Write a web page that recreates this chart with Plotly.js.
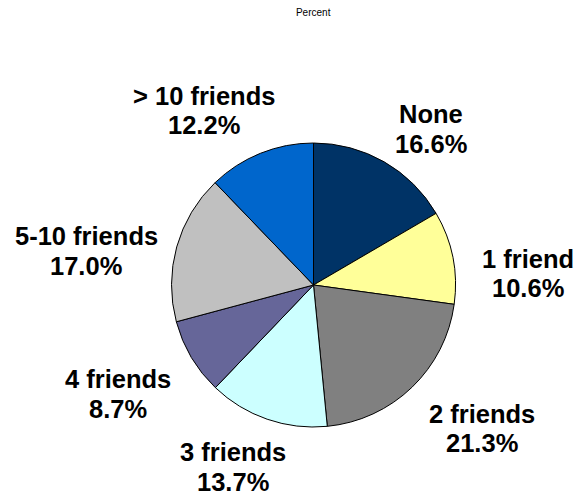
<!DOCTYPE html>
<html><head><meta charset="utf-8">
<script src="https://cdn.plot.ly/plotly-3.0.1.min.js"></script>
<style>html,body{margin:0;padding:0;background:#fff;}#chart{width:580px;height:495px;}</style>
</head><body><div id="chart"></div>
<script>
const categories = ["None", "1 friend", "2 friends", "3 friends", "4 friends", "5-10 friends", "> 10 friends"];
const values = [16.6, 10.6, 21.3, 13.7, 8.7, 17.0, 12.2];
const colors = ["#003366", "#FFFF99", "#808080", "#CCFFFF", "#666699", "#C0C0C0", "#0066CC"];

const W = 580, H = 495;
const cx = 313.5, cy = 285, R = 142;
// label anchor centres (pixels, first line) matching the reference layout
const labelPos = [[430.5, 114], [528, 258.7], [482, 413.7], [232.5, 452], [117.5, 379], [86, 236], [204, 96]];
const lineGap = 29.5;
const labelFont = {family: 'Liberation Sans, Arial, sans-serif', size: 25.5, color: '#000'};

const annotations = [];
categories.forEach((c, i) => {
  const base = {xref: 'paper', yref: 'paper', xanchor: 'center', yanchor: 'middle',
    showarrow: false, align: 'center', font: labelFont, x: labelPos[i][0] / W};
  annotations.push(Object.assign({}, base, {text: '<b>' + c + '</b>', y: 1 - labelPos[i][1] / H}));
  annotations.push(Object.assign({}, base, {text: '<b>' + values[i].toFixed(1) + '%</b>', y: 1 - (labelPos[i][1] + lineGap) / H}));
});

const data = [{
  type: 'pie', labels: categories, values: values, sort: false,
  direction: 'clockwise', rotation: 0,
  marker: {colors: colors, line: {color: '#000', width: 1}},
  textinfo: 'none', hoverinfo: 'label+percent', showlegend: false,
  domain: {x: [(cx - R) / W, (cx + R) / W], y: [(H - cy - R) / H, (H - cy + R) / H]}
}];

const layout = {
  width: W, height: H, margin: {l: 0, r: 0, t: 0, b: 0},
  paper_bgcolor: '#fff', showlegend: false,
  title: {text: 'Percent', x: 0.54, xanchor: 'center', y: 1 - 12 / H, yanchor: 'middle',
    font: {family: 'Liberation Sans, Arial, sans-serif', size: 10, color: '#000'}},
  annotations: annotations
};
Plotly.newPlot('chart', data, layout, {displayModeBar: false, staticPlot: true});
</script></body></html>
